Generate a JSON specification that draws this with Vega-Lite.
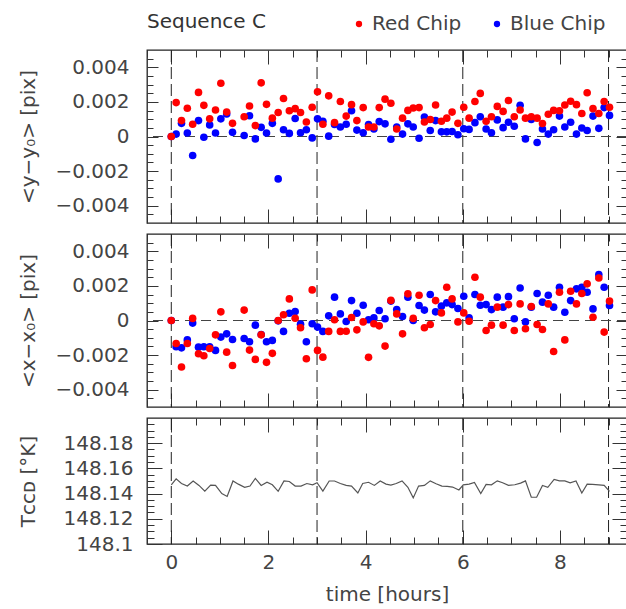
{
  "$schema": "https://vega.github.io/schema/vega-lite/v6.json",
  "padding": {"left": 17, "top": 10, "right": 0, "bottom": 0},
  "spacing": 11,
  "bounds": "flush",
  "config": {
    "view": {"stroke": "#222", "strokeWidth": 1.3},
    "font": "DejaVu Sans",
    "axis": {"labelFont": "DejaVu Sans", "labelFontSize": 20, "labelColor": "#444", "titleFont": "DejaVu Sans", "titleFontSize": 20, "titleColor": "#444", "titleFontWeight": "normal", "grid": false, "domain": false, "tickColor": "#333", "tickWidth": 1, "labelFlush": false, "labelOverlap": false, "labelBound": false},
    "legend": {"labelFont": "DejaVu Sans", "labelFontSize": 20, "labelColor": "#444"}
  },
  "datasets": {
    "vlines": [{"t": 0}, {"t": 3}, {"t": 6}, {"t": 9}],
    "zero": [{"v": 0}],
    "pts": [
      {"t":0,"chip":"Blue Chip","dy":0,"dx":0},
      {"t":0.10,"chip":"Blue Chip","dy":0.00014,"dx":-0.00152},
      {"t":0.21,"chip":"Blue Chip","dy":0.00076,"dx":-0.00158},
      {"t":0.33,"chip":"Blue Chip","dy":0.0002,"dx":-0.00112},
      {"t":0.44,"chip":"Blue Chip","dy":-0.0011,"dx":-0.00015},
      {"t":0.56,"chip":"Blue Chip","dy":0.00092,"dx":-0.00154},
      {"t":0.67,"chip":"Blue Chip","dy":-0.00004,"dx":-0.00152},
      {"t":0.79,"chip":"Blue Chip","dy":0.00067,"dx":-0.00152},
      {"t":0.91,"chip":"Blue Chip","dy":0.0002,"dx":-0.00173},
      {"t":1.02,"chip":"Blue Chip","dy":0.00102,"dx":-0.00096},
      {"t":1.14,"chip":"Blue Chip","dy":0.0013,"dx":-0.00077},
      {"t":1.26,"chip":"Blue Chip","dy":0.00024,"dx":-0.0011},
      {"t":1.50,"chip":"Blue Chip","dy":0.00006,"dx":-0.00104},
      {"t":1.61,"chip":"Blue Chip","dy":0.0012,"dx":-0.00123},
      {"t":1.73,"chip":"Blue Chip","dy":-0.00014,"dx":-0.00027},
      {"t":1.85,"chip":"Blue Chip","dy":0.00053,"dx":-0.00081},
      {"t":1.96,"chip":"Blue Chip","dy":0.0002,"dx":-0.00123},
      {"t":2.08,"chip":"Blue Chip","dy":0.00076,"dx":-0.00115},
      {"t":2.20,"chip":"Blue Chip","dy":-0.00245,"dx":-0.00002},
      {"t":2.31,"chip":"Blue Chip","dy":0.00039,"dx":-0.00063},
      {"t":2.43,"chip":"Blue Chip","dy":0.00018,"dx":0.00042},
      {"t":2.55,"chip":"Blue Chip","dy":0.00104,"dx":0.00052},
      {"t":2.66,"chip":"Blue Chip","dy":0.00022,"dx":-0.00021},
      {"t":2.78,"chip":"Blue Chip","dy":0.00039,"dx":-0.00123},
      {"t":2.90,"chip":"Blue Chip","dy":-0.00008,"dx":-0.00019},
      {"t":3.01,"chip":"Blue Chip","dy":0.00102,"dx":-0.00038},
      {"t":3.12,"chip":"Blue Chip","dy":0.00088,"dx":-0.00063},
      {"t":3.24,"chip":"Blue Chip","dy":0.00002,"dx":0.00027},
      {"t":3.36,"chip":"Blue Chip","dy":0.00069,"dx":0.00135},
      {"t":3.48,"chip":"Blue Chip","dy":0.00055,"dx":0.00038},
      {"t":3.60,"chip":"Blue Chip","dy":0.00071,"dx":-0.00006},
      {"t":3.71,"chip":"Blue Chip","dy":0.00149,"dx":0.00115},
      {"t":3.82,"chip":"Blue Chip","dy":0.00037,"dx":0.00042},
      {"t":3.95,"chip":"Blue Chip","dy":0.00022,"dx":0.00088},
      {"t":4.06,"chip":"Blue Chip","dy":0.00069,"dx":0.00004},
      {"t":4.17,"chip":"Blue Chip","dy":0.00043,"dx":0.00015},
      {"t":4.28,"chip":"Blue Chip","dy":0.00086,"dx":0.00058},
      {"t":4.40,"chip":"Blue Chip","dy":0.00073,"dx":0.0001},
      {"t":4.52,"chip":"Blue Chip","dy":-0.00016,"dx":0.00112},
      {"t":4.64,"chip":"Blue Chip","dy":0.00055,"dx":0.00063},
      {"t":4.76,"chip":"Blue Chip","dy":0.00014,"dx":0.00023},
      {"t":4.87,"chip":"Blue Chip","dy":0.00073,"dx":0.00135},
      {"t":4.98,"chip":"Blue Chip","dy":0.00055,"dx":0},
      {"t":5.10,"chip":"Blue Chip","dy":-0.0001,"dx":0.00087},
      {"t":5.21,"chip":"Blue Chip","dy":0.00112,"dx":0.0006},
      {"t":5.33,"chip":"Blue Chip","dy":0.00035,"dx":0.0015},
      {"t":5.44,"chip":"Blue Chip","dy":0.00092,"dx":0.0005},
      {"t":5.56,"chip":"Blue Chip","dy":0.00027,"dx":0.00083},
      {"t":5.67,"chip":"Blue Chip","dy":0.00027,"dx":0.00102},
      {"t":5.78,"chip":"Blue Chip","dy":0.00029,"dx":0.00092},
      {"t":5.90,"chip":"Blue Chip","dy":0.0001,"dx":0.00069},
      {"t":6.02,"chip":"Blue Chip","dy":0.00045,"dx":0.0014},
      {"t":6.13,"chip":"Blue Chip","dy":0.00041,"dx":0.00015},
      {"t":6.25,"chip":"Blue Chip","dy":0.0008,"dx":0.0015},
      {"t":6.36,"chip":"Blue Chip","dy":0.00114,"dx":0.00088},
      {"t":6.48,"chip":"Blue Chip","dy":0.00043,"dx":0.00092},
      {"t":6.59,"chip":"Blue Chip","dy":0.00022,"dx":0.00063},
      {"t":6.71,"chip":"Blue Chip","dy":0.00096,"dx":0.00135},
      {"t":6.83,"chip":"Blue Chip","dy":0.00051,"dx":0.00077},
      {"t":6.94,"chip":"Blue Chip","dy":0.00082,"dx":0.00138},
      {"t":7.06,"chip":"Blue Chip","dy":0.00059,"dx":0.0001},
      {"t":7.18,"chip":"Blue Chip","dy":0.0018,"dx":0.00188},
      {"t":7.29,"chip":"Blue Chip","dy":-0.00014,"dx":-0.00008},
      {"t":7.41,"chip":"Blue Chip","dy":0.00098,"dx":0.00077},
      {"t":7.53,"chip":"Blue Chip","dy":-0.00035,"dx":0.00156},
      {"t":7.64,"chip":"Blue Chip","dy":0.00043,"dx":0.00106},
      {"t":7.76,"chip":"Blue Chip","dy":0.00014,"dx":0.00146},
      {"t":7.87,"chip":"Blue Chip","dy":0.00039,"dx":0.00077},
      {"t":7.99,"chip":"Blue Chip","dy":0.00118,"dx":0.00192},
      {"t":8.10,"chip":"Blue Chip","dy":0.00055,"dx":0.00048},
      {"t":8.22,"chip":"Blue Chip","dy":0.00082,"dx":0.00115},
      {"t":8.34,"chip":"Blue Chip","dy":0.00014,"dx":0.00183},
      {"t":8.45,"chip":"Blue Chip","dy":0.00049,"dx":0.00192},
      {"t":8.56,"chip":"Blue Chip","dy":0.00035,"dx":0.00163},
      {"t":8.68,"chip":"Blue Chip","dy":0.00118,"dx":0.00067},
      {"t":8.80,"chip":"Blue Chip","dy":0.00047,"dx":0.00265},
      {"t":8.91,"chip":"Blue Chip","dy":0.00167,"dx":0.00192},
      {"t":9.02,"chip":"Blue Chip","dy":0.00122,"dx":0.00087},
      {"t":0,"chip":"Red Chip","dy":0,"dx":0},
      {"t":0.10,"chip":"Red Chip","dy":0.00196,"dx":-0.00133},
      {"t":0.21,"chip":"Red Chip","dy":0.00092,"dx":-0.00269},
      {"t":0.33,"chip":"Red Chip","dy":0.00163,"dx":-0.00133},
      {"t":0.44,"chip":"Red Chip","dy":0.00071,"dx":0.00012},
      {"t":0.56,"chip":"Red Chip","dy":0.00255,"dx":-0.00192},
      {"t":0.67,"chip":"Red Chip","dy":0.0018,"dx":-0.00204},
      {"t":0.79,"chip":"Red Chip","dy":0.00102,"dx":-0.00162},
      {"t":0.91,"chip":"Red Chip","dy":0.00153,"dx":-0.00083},
      {"t":1.02,"chip":"Red Chip","dy":0.00308,"dx":0.0005},
      {"t":1.14,"chip":"Red Chip","dy":0.00141,"dx":-0.00183},
      {"t":1.26,"chip":"Red Chip","dy":0.00076,"dx":-0.0026},
      {"t":1.50,"chip":"Red Chip","dy":0.00114,"dx":0.0006},
      {"t":1.61,"chip":"Red Chip","dy":0.00176,"dx":-0.00171},
      {"t":1.73,"chip":"Red Chip","dy":0.00063,"dx":-0.00225},
      {"t":1.85,"chip":"Red Chip","dy":0.0031,"dx":-0.00083},
      {"t":1.96,"chip":"Red Chip","dy":0.00186,"dx":-0.00242},
      {"t":2.08,"chip":"Red Chip","dy":0.00106,"dx":-0.0019},
      {"t":2.20,"chip":"Red Chip","dy":0.00139,"dx":0},
      {"t":2.31,"chip":"Red Chip","dy":0.0022,"dx":0.00033},
      {"t":2.43,"chip":"Red Chip","dy":0.00149,"dx":0.00125},
      {"t":2.55,"chip":"Red Chip","dy":0.00161,"dx":0.00013},
      {"t":2.66,"chip":"Red Chip","dy":0.00139,"dx":-0.00042},
      {"t":2.78,"chip":"Red Chip","dy":0.00084,"dx":-0.00221},
      {"t":2.90,"chip":"Red Chip","dy":0.00169,"dx":0.00177},
      {"t":3.01,"chip":"Red Chip","dy":0.00259,"dx":-0.00173},
      {"t":3.12,"chip":"Red Chip","dy":0.00071,"dx":-0.00212},
      {"t":3.24,"chip":"Red Chip","dy":0.00235,"dx":-0.00063},
      {"t":3.36,"chip":"Red Chip","dy":0.0008,"dx":0.00004},
      {"t":3.48,"chip":"Red Chip","dy":0.00202,"dx":-0.00063},
      {"t":3.60,"chip":"Red Chip","dy":0.00118,"dx":-0.00062},
      {"t":3.71,"chip":"Red Chip","dy":0.00184,"dx":0.00017},
      {"t":3.82,"chip":"Red Chip","dy":0.00092,"dx":-0.00054},
      {"t":3.95,"chip":"Red Chip","dy":0.00167,"dx":-0.00008},
      {"t":4.06,"chip":"Red Chip","dy":0.00055,"dx":-0.00213},
      {"t":4.17,"chip":"Red Chip","dy":0.00055,"dx":-0.00019},
      {"t":4.28,"chip":"Red Chip","dy":0.00167,"dx":-0.00031},
      {"t":4.40,"chip":"Red Chip","dy":0.00216,"dx":-0.00148},
      {"t":4.52,"chip":"Red Chip","dy":0.00192,"dx":0.00116},
      {"t":4.64,"chip":"Red Chip","dy":0.00043,"dx":0.00038},
      {"t":4.76,"chip":"Red Chip","dy":0.00106,"dx":-0.00077},
      {"t":4.87,"chip":"Red Chip","dy":0.00151,"dx":0.00154},
      {"t":4.98,"chip":"Red Chip","dy":0.00165,"dx":0.00012},
      {"t":5.10,"chip":"Red Chip","dy":0.00167,"dx":0.00146},
      {"t":5.21,"chip":"Red Chip","dy":0.00084,"dx":-0.00042},
      {"t":5.33,"chip":"Red Chip","dy":0.00098,"dx":-0.00023},
      {"t":5.44,"chip":"Red Chip","dy":0.00182,"dx":0.00115},
      {"t":5.56,"chip":"Red Chip","dy":0.00088,"dx":0.00044},
      {"t":5.67,"chip":"Red Chip","dy":0.00106,"dx":0.00192},
      {"t":5.78,"chip":"Red Chip","dy":0.00141,"dx":0.00125},
      {"t":5.90,"chip":"Red Chip","dy":0.00076,"dx":-0.00008},
      {"t":6.02,"chip":"Red Chip","dy":0.00169,"dx":0.00044},
      {"t":6.13,"chip":"Red Chip","dy":0.00106,"dx":-0.00004},
      {"t":6.25,"chip":"Red Chip","dy":0.00202,"dx":0.0025},
      {"t":6.36,"chip":"Red Chip","dy":0.00249,"dx":0.00135},
      {"t":6.48,"chip":"Red Chip","dy":0.00088,"dx":-0.00058},
      {"t":6.59,"chip":"Red Chip","dy":0.00114,"dx":-0.00027},
      {"t":6.71,"chip":"Red Chip","dy":0.00174,"dx":0.00077},
      {"t":6.83,"chip":"Red Chip","dy":0.00145,"dx":-0.00027},
      {"t":6.94,"chip":"Red Chip","dy":0.00208,"dx":0.00092},
      {"t":7.06,"chip":"Red Chip","dy":0.00114,"dx":-0.00058},
      {"t":7.18,"chip":"Red Chip","dy":0.00153,"dx":0.00096},
      {"t":7.29,"chip":"Red Chip","dy":0.00106,"dx":-0.00048},
      {"t":7.41,"chip":"Red Chip","dy":0.00114,"dx":0.00081},
      {"t":7.53,"chip":"Red Chip","dy":0.00106,"dx":-0.00023},
      {"t":7.64,"chip":"Red Chip","dy":0.00075,"dx":-0.00052},
      {"t":7.76,"chip":"Red Chip","dy":0.00129,"dx":0.00096},
      {"t":7.87,"chip":"Red Chip","dy":0.00151,"dx":-0.00179},
      {"t":7.99,"chip":"Red Chip","dy":0.00149,"dx":0.00163},
      {"t":8.10,"chip":"Red Chip","dy":0.00182,"dx":-0.00112},
      {"t":8.22,"chip":"Red Chip","dy":0.00204,"dx":0.00169},
      {"t":8.34,"chip":"Red Chip","dy":0.00184,"dx":0.00096},
      {"t":8.45,"chip":"Red Chip","dy":0.00133,"dx":0.00156},
      {"t":8.56,"chip":"Red Chip","dy":0.00253,"dx":0.00212},
      {"t":8.68,"chip":"Red Chip","dy":0.00161,"dx":0.00019},
      {"t":8.80,"chip":"Red Chip","dy":0.00133,"dx":0.00246},
      {"t":8.91,"chip":"Red Chip","dy":0.00202,"dx":-0.00067},
      {"t":9.02,"chip":"Red Chip","dy":0.00169,"dx":0.00112}
    ],
    "temp": [
      {"t":0,"T":148.147},{"t":0.10,"T":148.1517},{"t":0.21,"T":148.148},{"t":0.33,"T":148.146},{"t":0.45,"T":148.15},{"t":0.57,"T":148.1465},{"t":0.69,"T":148.142},{"t":0.81,"T":148.1467},{"t":0.91,"T":148.1465},{"t":1.04,"T":148.14},{"t":1.15,"T":148.1377},{"t":1.27,"T":148.15},{"t":1.38,"T":148.1475},{"t":1.51,"T":148.145},{"t":1.62,"T":148.146},{"t":1.73,"T":148.152},{"t":1.85,"T":148.1465},{"t":1.97,"T":148.149},{"t":2.08,"T":148.147},{"t":2.20,"T":148.1418},{"t":2.32,"T":148.15},{"t":2.43,"T":148.1496},{"t":2.55,"T":148.146},{"t":2.67,"T":148.146},{"t":2.79,"T":148.148},{"t":2.91,"T":148.147},{"t":3.00,"T":148.1486},{"t":3.12,"T":148.142},{"t":3.25,"T":148.15},{"t":3.36,"T":148.15},{"t":3.48,"T":148.148},{"t":3.60,"T":148.1465},{"t":3.71,"T":148.146},{"t":3.84,"T":148.1405},{"t":3.94,"T":148.148},{"t":4.06,"T":148.149},{"t":4.18,"T":148.1465},{"t":4.30,"T":148.15},{"t":4.42,"T":148.1475},{"t":4.52,"T":148.1468},{"t":4.63,"T":148.148},{"t":4.75,"T":148.1501},{"t":4.87,"T":148.145},{"t":4.98,"T":148.1366},{"t":5.09,"T":148.146},{"t":5.21,"T":148.1465},{"t":5.33,"T":148.1501},{"t":5.45,"T":148.1478},{"t":5.57,"T":148.146},{"t":5.68,"T":148.1457},{"t":5.79,"T":148.1452},{"t":5.92,"T":148.1429},{"t":6.01,"T":148.147},{"t":6.13,"T":148.1475},{"t":6.24,"T":148.1488},{"t":6.37,"T":148.14},{"t":6.48,"T":148.1473},{"t":6.59,"T":148.147},{"t":6.71,"T":148.1501},{"t":6.82,"T":148.1486},{"t":6.94,"T":148.1465},{"t":7.07,"T":148.147},{"t":7.19,"T":148.1483},{"t":7.29,"T":148.1501},{"t":7.41,"T":148.1371},{"t":7.52,"T":148.1371},{"t":7.64,"T":148.1465},{"t":7.75,"T":148.145},{"t":7.88,"T":148.1512},{"t":7.99,"T":148.1501},{"t":8.10,"T":148.1501},{"t":8.21,"T":148.1486},{"t":8.33,"T":148.1501},{"t":8.45,"T":148.1405},{"t":8.56,"T":148.1475},{"t":8.67,"T":148.1473},{"t":8.80,"T":148.147},{"t":8.91,"T":148.1465},{"t":9.02,"T":148.1418}
    ]
  },
  "vconcat": [
    {
      "width": 480, "height": 173,
      "title": {"text": "Sequence C", "anchor": "start", "frame": "group", "baseline": "alphabetic", "offset": 2, "fontSize": 20, "font": "DejaVu Sans", "fontWeight": "normal", "color": "#333"},
      "resolve": {"axis": {"x": "independent", "y": "independent"}},
      "layer": [
        {"data": {"name": "vlines"}, "mark": {"type": "rule", "strokeDash": [12, 5], "color": "#222", "strokeWidth": 1},
         "encoding": {"x": {"field": "t", "type": "quantitative", "scale": {"domain": [-0.5, 9.38], "nice": false, "zero": false}, "axis": null}}},
        {"data": {"name": "zero"}, "mark": {"type": "rule", "strokeDash": [10, 6], "color": "#444", "strokeWidth": 1},
         "encoding": {"y": {"field": "v", "type": "quantitative", "scale": {"domain": [-0.005, 0.005], "nice": false}, "axis": null}}},
        {"data": {"name": "pts"}, "mark": {"type": "circle", "size": 58, "opacity": 1},
         "encoding": {
           "x": {"field": "t", "type": "quantitative", "scale": {"domain": [-0.5, 9.38], "nice": false, "zero": false}, "axis": {"orient": "bottom", "values": [0, 2, 4, 6, 8], "tickSize": -14, "labels": false, "title": null}},
           "y": {"field": "dy", "type": "quantitative", "scale": {"domain": [-0.005, 0.005], "nice": false}, "axis": {"orient": "left", "values": [-0.004, -0.002, 0, 0.002, 0.004], "format": ".3~f", "tickSize": -11, "labelPadding": 29, "title": "<y−y₀>  [pix]", "titleX": -119, "titleY": 86.5, "titleAngle": -90, "titleAlign": "center", "titleBaseline": "middle"}},
           "color": {"field": "chip", "type": "nominal", "scale": {"domain": ["Red Chip", "Blue Chip"], "range": ["#ff0000", "#0000ff"]},
             "legend": {"orient": "none", "legendX": 202, "legendY": -36, "direction": "horizontal", "title": null, "symbolType": "circle", "symbolSize": 40, "symbolStrokeWidth": 0, "labelOffset": 3, "columnPadding": 25, "padding": 0}}
         }},
        {"data": {"name": "pts"}, "mark": {"type": "circle", "opacity": 0},
         "encoding": {
           "x": {"field": "t", "type": "quantitative", "scale": {"domain": [-0.5, 9.38], "nice": false, "zero": false}, "axis": {"orient": "bottom", "values": [-0.5, 0.5, 1, 1.5, 2.5, 3, 3.5, 4.5, 5, 5.5, 6.5, 7, 7.5, 8.5, 9], "tickSize": -7, "labels": false, "title": null}},
           "y": {"field": "dy", "type": "quantitative", "scale": {"domain": [-0.005, 0.005], "nice": false}, "axis": {"orient": "left", "values": [-0.0045, -0.0035, -0.003, -0.0025, -0.0015, -0.001, -0.0005, 0.0005, 0.001, 0.0015, 0.0025, 0.003, 0.0035, 0.0045], "tickSize": -6, "labels": false, "title": null}}
         }},
        {"data": {"name": "pts"}, "mark": {"type": "circle", "opacity": 0},
         "encoding": {
           "x": {"field": "t", "type": "quantitative", "scale": {"domain": [-0.5, 9.38], "nice": false, "zero": false}, "axis": {"orient": "top", "values": [0, 2, 4, 6, 8], "tickSize": -14, "labels": false, "title": null}},
           "y": {"field": "dy", "type": "quantitative", "scale": {"domain": [-0.005, 0.005], "nice": false}, "axis": {"orient": "right", "values": [-0.004, -0.002, 0, 0.002, 0.004], "tickSize": -11, "labels": false, "title": null}}
         }},
        {"data": {"name": "pts"}, "mark": {"type": "circle", "opacity": 0},
         "encoding": {
           "x": {"field": "t", "type": "quantitative", "scale": {"domain": [-0.5, 9.38], "nice": false, "zero": false}, "axis": {"orient": "top", "values": [-0.5, 0.5, 1, 1.5, 2.5, 3, 3.5, 4.5, 5, 5.5, 6.5, 7, 7.5, 8.5, 9], "tickSize": -7, "labels": false, "title": null}},
           "y": {"field": "dy", "type": "quantitative", "scale": {"domain": [-0.005, 0.005], "nice": false}, "axis": {"orient": "right", "values": [-0.0045, -0.0035, -0.003, -0.0025, -0.0015, -0.001, -0.0005, 0.0005, 0.001, 0.0015, 0.0025, 0.003, 0.0035, 0.0045], "tickSize": -6, "labels": false, "title": null}}
         }}
      ]
    },
    {
      "width": 480, "height": 173,
      "resolve": {"axis": {"x": "independent", "y": "independent"}},
      "layer": [
        {"data": {"name": "vlines"}, "mark": {"type": "rule", "strokeDash": [12, 5], "color": "#222", "strokeWidth": 1},
         "encoding": {"x": {"field": "t", "type": "quantitative", "scale": {"domain": [-0.5, 9.38], "nice": false, "zero": false}, "axis": null}}},
        {"data": {"name": "zero"}, "mark": {"type": "rule", "strokeDash": [10, 6], "color": "#444", "strokeWidth": 1},
         "encoding": {"y": {"field": "v", "type": "quantitative", "scale": {"domain": [-0.005, 0.005], "nice": false}, "axis": null}}},
        {"data": {"name": "pts"}, "mark": {"type": "circle", "size": 58, "opacity": 1},
         "encoding": {
           "x": {"field": "t", "type": "quantitative", "scale": {"domain": [-0.5, 9.38], "nice": false, "zero": false}, "axis": {"orient": "bottom", "values": [0, 2, 4, 6, 8], "tickSize": -14, "labels": false, "title": null}},
           "y": {"field": "dx", "type": "quantitative", "scale": {"domain": [-0.005, 0.005], "nice": false}, "axis": {"orient": "left", "values": [-0.004, -0.002, 0, 0.002, 0.004], "format": ".3~f", "tickSize": -11, "labelPadding": 29, "title": "<x−x₀>  [pix]", "titleX": -119, "titleY": 86.5, "titleAngle": -90, "titleAlign": "center", "titleBaseline": "middle"}},
           "color": {"field": "chip", "type": "nominal", "scale": {"domain": ["Red Chip", "Blue Chip"], "range": ["#ff0000", "#0000ff"]},
             "legend": {"orient": "none", "legendX": 202, "legendY": -36, "direction": "horizontal", "title": null, "symbolType": "circle", "symbolSize": 40, "symbolStrokeWidth": 0, "labelOffset": 3, "columnPadding": 25, "padding": 0}}
         }},
        {"data": {"name": "pts"}, "mark": {"type": "circle", "opacity": 0},
         "encoding": {
           "x": {"field": "t", "type": "quantitative", "scale": {"domain": [-0.5, 9.38], "nice": false, "zero": false}, "axis": {"orient": "bottom", "values": [-0.5, 0.5, 1, 1.5, 2.5, 3, 3.5, 4.5, 5, 5.5, 6.5, 7, 7.5, 8.5, 9], "tickSize": -7, "labels": false, "title": null}},
           "y": {"field": "dx", "type": "quantitative", "scale": {"domain": [-0.005, 0.005], "nice": false}, "axis": {"orient": "left", "values": [-0.0045, -0.0035, -0.003, -0.0025, -0.0015, -0.001, -0.0005, 0.0005, 0.001, 0.0015, 0.0025, 0.003, 0.0035, 0.0045], "tickSize": -6, "labels": false, "title": null}}
         }},
        {"data": {"name": "pts"}, "mark": {"type": "circle", "opacity": 0},
         "encoding": {
           "x": {"field": "t", "type": "quantitative", "scale": {"domain": [-0.5, 9.38], "nice": false, "zero": false}, "axis": {"orient": "top", "values": [0, 2, 4, 6, 8], "tickSize": -14, "labels": false, "title": null}},
           "y": {"field": "dx", "type": "quantitative", "scale": {"domain": [-0.005, 0.005], "nice": false}, "axis": {"orient": "right", "values": [-0.004, -0.002, 0, 0.002, 0.004], "tickSize": -11, "labels": false, "title": null}}
         }},
        {"data": {"name": "pts"}, "mark": {"type": "circle", "opacity": 0},
         "encoding": {
           "x": {"field": "t", "type": "quantitative", "scale": {"domain": [-0.5, 9.38], "nice": false, "zero": false}, "axis": {"orient": "top", "values": [-0.5, 0.5, 1, 1.5, 2.5, 3, 3.5, 4.5, 5, 5.5, 6.5, 7, 7.5, 8.5, 9], "tickSize": -7, "labels": false, "title": null}},
           "y": {"field": "dx", "type": "quantitative", "scale": {"domain": [-0.005, 0.005], "nice": false}, "axis": {"orient": "right", "values": [-0.0045, -0.0035, -0.003, -0.0025, -0.0015, -0.001, -0.0005, 0.0005, 0.001, 0.0015, 0.0025, 0.003, 0.0035, 0.0045], "tickSize": -6, "labels": false, "title": null}}
         }}
      ]
    },
    {
      "width": 480, "height": 126,
      "resolve": {"axis": {"x": "independent", "y": "independent"}},
      "layer": [
        {"data": {"name": "vlines"}, "mark": {"type": "rule", "strokeDash": [12, 5], "color": "#222", "strokeWidth": 1},
         "encoding": {"x": {"field": "t", "type": "quantitative", "scale": {"domain": [-0.5, 9.38], "nice": false, "zero": false}, "axis": null}}},
        {"data": {"name": "temp"}, "mark": {"type": "line", "color": "#555", "strokeWidth": 1.2},
         "encoding": {
           "x": {"field": "t", "type": "quantitative", "scale": {"domain": [-0.5, 9.38], "nice": false, "zero": false}, "axis": {"orient": "bottom", "values": [0, 2, 4, 6, 8], "format": "d", "tickSize": -14, "labelPadding": 22, "title": "time  [hours]", "titlePadding": 12}},
           "y": {"field": "T", "type": "quantitative", "scale": {"domain": [148.1, 148.2], "nice": false, "zero": false}, "axis": {"orient": "left", "values": [148.1, 148.12, 148.14, 148.16, 148.18], "format": ".2~f", "tickSize": -15, "labelPadding": 29, "title": "Tᴄᴄᴅ  [°K]", "titleX": -119, "titleY": 63, "titleAngle": -90, "titleAlign": "center", "titleBaseline": "middle"}}
         }},
        {"data": {"name": "temp"}, "mark": {"type": "circle", "opacity": 0},
         "encoding": {
           "x": {"field": "t", "type": "quantitative", "scale": {"domain": [-0.5, 9.38], "nice": false, "zero": false}, "axis": {"orient": "bottom", "values": [-0.5, 0.5, 1, 1.5, 2.5, 3, 3.5, 4.5, 5, 5.5, 6.5, 7, 7.5, 8.5, 9], "tickSize": -7, "labels": false, "title": null}},
           "y": {"field": "T", "type": "quantitative", "scale": {"domain": [148.1, 148.2], "nice": false, "zero": false}, "axis": {"orient": "left", "values": [148.105, 148.11, 148.115, 148.125, 148.13, 148.135, 148.145, 148.15, 148.155, 148.165, 148.17, 148.175, 148.185, 148.19, 148.195], "tickSize": -7, "labels": false, "title": null}}
         }},
        {"data": {"name": "temp"}, "mark": {"type": "circle", "opacity": 0},
         "encoding": {
           "x": {"field": "t", "type": "quantitative", "scale": {"domain": [-0.5, 9.38], "nice": false, "zero": false}, "axis": {"orient": "top", "values": [0, 2, 4, 6, 8], "tickSize": -14, "labels": false, "title": null}},
           "y": {"field": "T", "type": "quantitative", "scale": {"domain": [148.1, 148.2], "nice": false, "zero": false}, "axis": {"orient": "right", "values": [148.12, 148.14, 148.16, 148.18], "tickSize": -15, "labels": false, "title": null}}
         }},
        {"data": {"name": "temp"}, "mark": {"type": "circle", "opacity": 0},
         "encoding": {
           "x": {"field": "t", "type": "quantitative", "scale": {"domain": [-0.5, 9.38], "nice": false, "zero": false}, "axis": {"orient": "top", "values": [-0.5, 0.5, 1, 1.5, 2.5, 3, 3.5, 4.5, 5, 5.5, 6.5, 7, 7.5, 8.5, 9], "tickSize": -7, "labels": false, "title": null}},
           "y": {"field": "T", "type": "quantitative", "scale": {"domain": [148.1, 148.2], "nice": false, "zero": false}, "axis": {"orient": "right", "values": [148.105, 148.11, 148.115, 148.125, 148.13, 148.135, 148.145, 148.15, 148.155, 148.165, 148.17, 148.175, 148.185, 148.19, 148.195], "tickSize": -7, "labels": false, "title": null}}
         }}
      ]
    }
  ]
}
